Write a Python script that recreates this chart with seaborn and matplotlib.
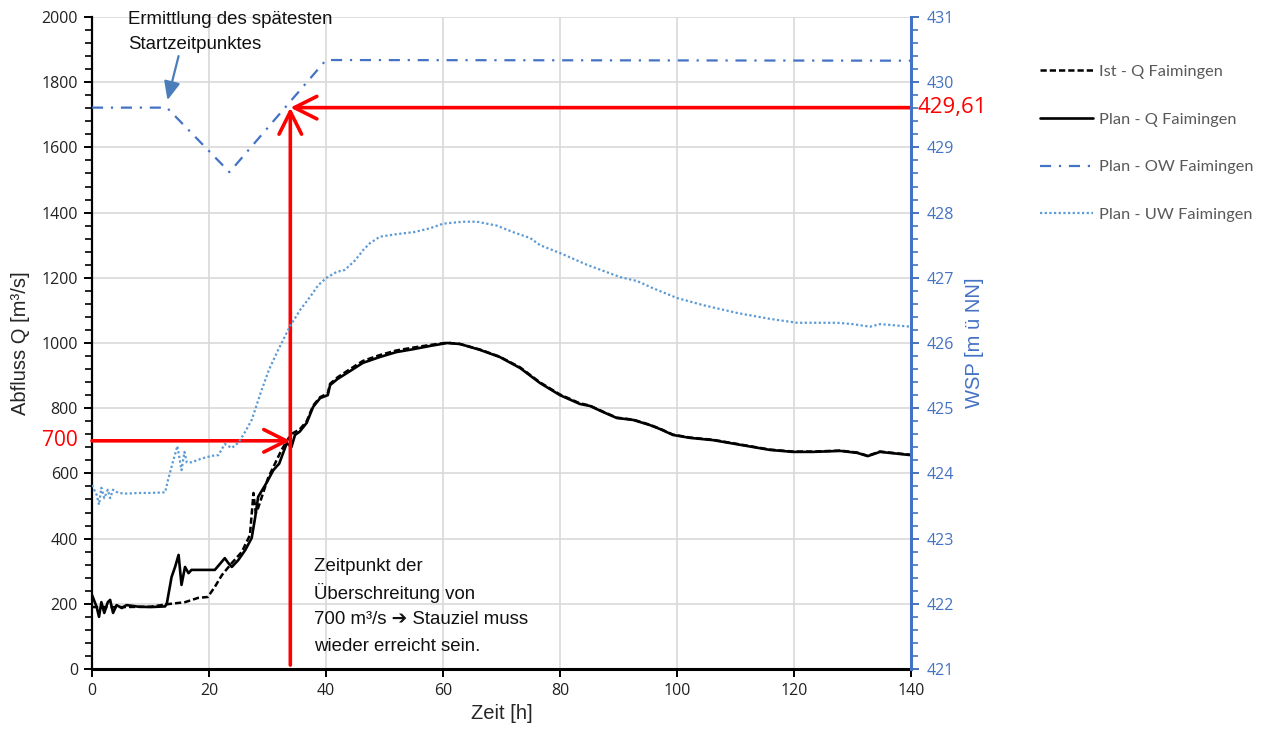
import matplotlib
matplotlib.use("Agg")
import matplotlib.pyplot as plt
import seaborn as sns
import numpy as np
from matplotlib.ticker import MultipleLocator, FixedLocator
from matplotlib.patches import FancyArrowPatch

# ---------------- data ----------------
plan_q_h = [0, 0.8, 1.2, 1.6, 2.1, 2.7, 3.1, 3.6, 4.2, 5.1, 5.9, 8, 10, 12.5, 12.8, 13.6, 14.2,
            14.8, 15.3, 15.9, 16.5, 17, 19.3, 21, 22.7, 23.3, 23.9, 25, 26.2, 27.3, 27.9, 28.4,
            29.9, 31.0, 32.0, 33.3, 34.1, 34.7, 35.5, 36.7, 37.8, 39, 40.3, 40.7, 42, 43.6, 46.3,
            49.2, 52, 54.9, 57.8, 60.7, 62.9, 66.3, 69.7, 73.2, 76.6, 80, 83.4, 85.1, 87.4, 89.7,
            92.5, 95.4, 97.1, 99.3, 102.2, 106.2, 109.1, 112, 115.9, 119.8, 123.2, 127.9, 130.8,
            132.6, 134.7, 140]
plan_q = [227, 190, 160, 205, 172, 205, 212, 172, 196, 187, 196, 191, 190, 192, 202, 282, 313,
          350, 258, 313, 294, 304, 304, 304, 340, 325, 313, 334, 365, 402, 466, 528,
          573, 610, 630, 693, 681, 718, 728, 755, 804, 831, 840, 871, 890, 908, 939,
          957, 972, 981, 991, 1000, 997, 979, 957, 923, 877, 840, 813, 807, 788, 770,
          764, 748, 736, 718, 709, 702, 693, 684, 672, 666, 666, 669, 663,
          653, 666, 656]

ist_q_h = [0, 5, 10, 13, 15.9, 18.1, 19.8, 21, 22.2, 23.9, 25.6, 27, 27.6, 28, 28.4, 30.1,
           32.4, 33.6, 34.4, 35.5, 36.7, 37.8, 39, 40.3, 40.7, 42, 43.6, 46.3, 49.2, 52, 54.9,
           57.8, 60.7, 62.9, 66.3, 69.7, 73.2, 76.6, 80, 83.4, 85.1, 87.4, 89.7, 92.5, 95.4,
           97.1, 99.3, 102.2, 106.2, 109.1, 112, 115.9, 119.8, 123.2, 127.9, 130.8, 132.6,
           134.7, 140]
ist_q = [190, 190, 191, 199, 205, 218, 221, 252, 288, 325, 359, 411, 540, 478, 494, 586,
         672, 708, 724, 735, 760, 808, 834, 845, 875, 895, 914, 945,
         963, 977, 986, 994, 1001, 997, 980, 958, 925, 879, 842, 815, 808, 789, 771, 765, 749,
         737, 719, 710, 703, 694, 685, 673, 667, 667, 670, 664, 654, 667, 657]

ow_h = [0, 12.8, 23.5, 40.0, 140]
ow_wsp = [429.61, 429.61, 428.62, 430.34, 430.33]

uw_h = [0, 0.8, 1.2, 1.6, 2.1, 2.7, 3.1, 3.6, 4.5, 6, 8, 10, 12.5, 13, 13.9, 14.6, 15.3, 15.8,
        16.2, 17, 18.8, 20.5, 21.6, 22.7, 23.9, 25, 26.2, 27.3, 29, 30.3, 31.8, 33.8, 35.6,
        37.3, 38.7, 40.1, 41.8, 43.2, 45, 46.4, 47.5, 49.2, 52.1, 55, 57.8, 60, 63.4, 65.8,
        69.2, 72, 74.9, 76.6, 80, 84.6, 90.3, 93.2, 95.9, 100, 104.5, 110.3, 115.9, 120.5,
        127.4, 130, 133, 134.7, 140]
uw_wsp = [423.82, 423.67, 423.52, 423.78, 423.62, 423.75, 423.62, 423.75, 423.70, 423.69,
          423.70, 423.70, 423.71, 423.90, 424.20, 424.42, 424.05, 424.33, 424.17, 424.17,
          424.23, 424.27, 424.28, 424.45, 424.39, 424.47, 424.64, 424.82, 425.28, 425.60,
          425.89, 426.25, 426.51, 426.71, 426.89, 427.00, 427.09, 427.12, 427.27, 427.43,
          427.53, 427.63, 427.67, 427.70, 427.76, 427.83, 427.86, 427.86, 427.80, 427.70,
          427.61, 427.50, 427.38, 427.20, 427.01, 426.95, 426.84, 426.69, 426.58, 426.46,
          426.37, 426.31, 426.31, 426.29, 426.25, 426.29, 426.25]

Q_THRESH = 700
T_THRESH = 33.9
WSP_TARGET = 429.61
x_ticks = [0, 20, 40, 60, 80, 100, 120, 140]
q_ticks = list(range(0, 2001, 200))
wsp_ticks = list(range(421, 432))
note_top = ["Ermittlung des spätesten", "Startzeitpunktes"]
note_bottom = ["Zeitpunkt der", "Überschreitung von", "700 m³/s ➔ Stauziel muss",
               "wieder erreicht sein."]

BLUE = "#4472C4"
LBLUE = "#5B9BD5"
RED = "#FF0000"

# ---------------- figure ----------------
sns.set_theme(style="white")
plt.rcParams['font.family'] = ['Open Sans', 'DejaVu Sans']
fig = plt.figure(figsize=(12.65, 7.31), dpi=100)
ax = fig.add_axes([92/1265, 1-669/731, (911-92)/1265, (669-17)/731])
ax2 = ax.twinx()
ax2.set_position(ax.get_position())

sns.lineplot(x=ist_q_h, y=ist_q, ax=ax, color="black", lw=1.8,
             linestyle=(0, (2.5, 1.2)), label="Ist - Q Faimingen", legend=False)
sns.lineplot(x=plan_q_h, y=plan_q, ax=ax, color="black", lw=1.9,
             label="Plan - Q Faimingen", legend=False)
sns.lineplot(x=ow_h, y=ow_wsp, ax=ax2, color=BLUE, lw=1.6,
             linestyle=(0, (5, 3.5, 1, 3.5)), label="Plan - OW Faimingen", legend=False)
sns.lineplot(x=uw_h, y=uw_wsp, ax=ax2, color=LBLUE, lw=1.6,
             linestyle=(0, (1, 1.1)), label="Plan - UW Faimingen", legend=False)

ax.set_xlim(0, 140)
ax.set_ylim(0, 2000)
ax2.set_ylim(421, 431)
ax.xaxis.set_major_locator(FixedLocator(x_ticks))
ax.yaxis.set_major_locator(FixedLocator(q_ticks))
ax.yaxis.set_minor_locator(MultipleLocator(40))
ax2.yaxis.set_major_locator(FixedLocator(wsp_ticks))
ax2.yaxis.set_minor_locator(MultipleLocator(0.2))

ax.grid(True, which="major", color="#d9d9d9", lw=1.2)
ax.set_axisbelow(True)
for s in ["top"]:
    ax.spines[s].set_visible(False)
    ax2.spines[s].set_visible(False)
ax.spines["left"].set_color("black"); ax.spines["left"].set_linewidth(1.6)
ax.spines["bottom"].set_color("black"); ax.spines["bottom"].set_linewidth(2.2)
ax.spines["right"].set_visible(False)
ax2.spines["left"].set_visible(False)
ax2.spines["bottom"].set_visible(False)
ax2.spines["right"].set_color(BLUE); ax2.spines["right"].set_linewidth(2.2)

TICK_FS = 11.5
ax.tick_params(axis="y", which="major", direction="out", length=6, width=1.4,
               color="black", labelsize=TICK_FS, labelcolor="#222222", left=True, pad=4)
ax.tick_params(axis="y", which="minor", direction="out", length=5, width=1.2,
               color="black", left=True)
ax.tick_params(axis="x", which="major", direction="out", length=6, width=1.4,
               color="black", labelsize=TICK_FS, labelcolor="#222222", bottom=True, pad=4)
ax2.tick_params(axis="y", which="major", direction="out", length=6, width=1.4,
                color=BLUE, labelsize=TICK_FS, labelcolor=BLUE, right=True, pad=5)
ax2.tick_params(axis="y", which="minor", direction="out", length=5, width=1.2,
                color=BLUE, right=True)

ax.set_xlabel("Zeit [h]", fontsize=14.5, family=["Liberation Sans"], labelpad=4)
ax.set_ylabel("Abfluss Q [m³/s]", fontsize=14.5, family=["Liberation Sans"], labelpad=8)
ax2.set_ylabel("WSP [m ü NN]", fontsize=14.5, family=["Liberation Sans"], color=BLUE, labelpad=8)

# red threshold arrows
wsp_as_q = (WSP_TARGET - 421) / (431 - 421) * 2000
astyle = "->,head_length=0.9,head_width=0.45"
for (x0, y0, x1, y1) in [(0, Q_THRESH, T_THRESH, Q_THRESH),
                         (T_THRESH, 12, T_THRESH, wsp_as_q),
                         (140, wsp_as_q, T_THRESH, wsp_as_q)]:
    ax.add_patch(FancyArrowPatch((x0, y0), (x1, y1), arrowstyle=astyle, mutation_scale=18,
                                 color=RED, lw=2.6, shrinkA=0, shrinkB=0, clip_on=False, zorder=6))

ax.text(-0.017, Q_THRESH, "700", transform=ax.get_yaxis_transform(), color=RED,
        fontsize=15, ha="right", va="center")
ax2.text(1.008, WSP_TARGET, "429,61", transform=ax2.get_yaxis_transform(), color=RED,
         fontsize=16, ha="left", va="center")

# annotations (one text per line, fixed spacing)
ANN_FS = 13.4
for i, line in enumerate(note_top):
    ax.text(6.2, 1991 - i * 74, line, fontsize=ANN_FS, family=["Liberation Sans"],
            va="center", ha="left", color="#111111")
ax.annotate("", xy=(12.9, 1745), xytext=(14.8, 1880),
            arrowprops=dict(arrowstyle="-|>,head_length=0.8,head_width=0.35", color="#4a7ebb",
                            lw=1.6, shrinkA=0, shrinkB=0, mutation_scale=14))
for i, line in enumerate(note_bottom):
    ax.text(37.9, 313 - i * 81, line, fontsize=ANN_FS,
            family=["Liberation Sans", "DejaVu Sans"], va="center", ha="left", color="#111111")

# legend
h1, l1 = ax.get_legend_handles_labels()
h2, l2 = ax2.get_legend_handles_labels()
leg = fig.legend(h1 + h2, l1 + l2, loc="upper left", bbox_to_anchor=(1025/1265, 1-50/731),
                 frameon=False, labelspacing=2.02, handlelength=3.25,
                 handletextpad=0.35, prop={"family": "Lato", "size": 11.8})
for t in leg.get_texts():
    t.set_color("#595959")

fig.savefig("out.png", dpi=100)
